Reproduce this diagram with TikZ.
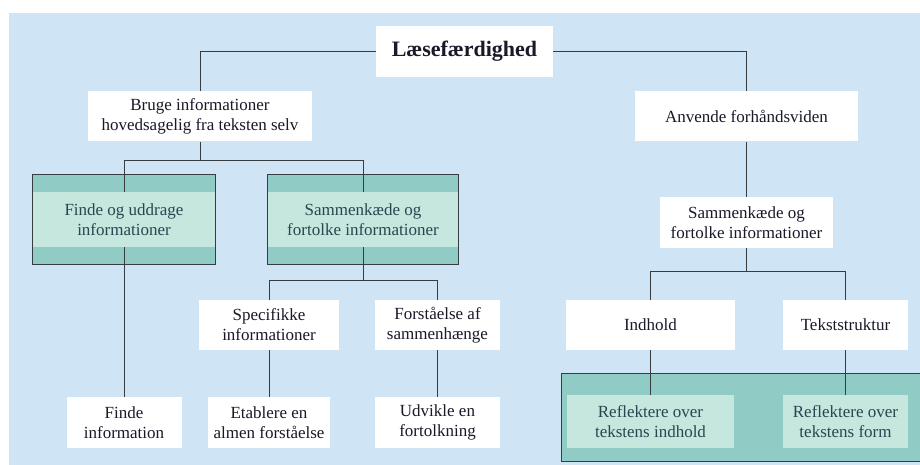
\documentclass[tikz,border=0pt]{standalone}
\usepackage{fontspec}
\setmainfont{Liberation Serif}
\usepackage{xcolor}
\usepackage{tikz}
\usetikzlibrary{positioning, fit, backgrounds, calc}
\definecolor{bgColor}{RGB}{207, 228, 244}
\definecolor{tealColor}{RGB}{145, 203, 197}
\definecolor{lightTeal}{RGB}{198, 231, 222}
\definecolor{lineColor}{RGB}{55, 60, 65}
\definecolor{tealText}{RGB}{40, 70, 80}
\definecolor{inkColor}{RGB}{25, 25, 40}

\begin{document}
\begin{tikzpicture}[
    x=1pt, y=-1pt,
    box/.style={rectangle, fill=white, minimum height=50pt, inner sep=0pt, align=center, text=inkColor, font=\fontsize{17}{20}\selectfont},
    greenbox/.style={box, fill=lightTeal, text=tealText, minimum height=55pt},
    frame/.style={draw=lineColor, fill=tealColor, line width=1pt, inner xsep=0pt, inner ysep=17.5pt},
    link/.style={draw=lineColor, line width=0.9pt}
]
    \useasboundingbox (0,0) rectangle (920,465);

    % Root
    \node[box, minimum width=177pt, minimum height=51pt, font=\fontsize{22}{26}\selectfont\bfseries] (root) at (464.5,51.5) {Læsefærdighed};

    % Left branch
    \node[box, minimum width=224pt] (bruge) at (200,116.5) {Bruge informationer\\hovedsagelig fra teksten selv};
    \node[greenbox, minimum width=182pt] (finde) at (124,219.5) {Finde og uddrage\\informationer};
    \node[greenbox, minimum width=190pt] (samL) at (363,219.5) {Sammenkæde og\\fortolke informationer};
    \node[box, minimum width=140pt] (spec) at (269,325) {Specifikke\\informationer};
    \node[box, minimum width=125pt] (forst) at (437.5,325) {Forståelse af\\sammenhænge};
    \node[box, minimum width=115pt, minimum height=51pt] (finfo) at (124,422.5) {Finde\\information};
    \node[box, minimum width=122pt, minimum height=51pt, below=47pt of spec] (etab) {Etablere en\\almen forståelse};
    \node[box, minimum width=125pt, minimum height=51pt, below=47pt of forst] (udv) {Udvikle en\\fortolkning};

    % Right branch
    \node[box, minimum width=223pt] (anvende) at (746.5,116.5) {Anvende forhåndsviden};
    \node[box, minimum width=173pt, minimum height=51pt, below=55pt of anvende] (samR) {Sammenkæde og\\fortolke informationer};
    \node[box, minimum width=169pt] (indhold) at (650.5,325) {Indhold};
    \node[box, minimum width=125pt] (tekst) at (845.5,325) {Tekststruktur};
    \node[greenbox, minimum width=167pt, minimum height=53pt, below=45pt of indhold] (refIn) {Reflektere over\\tekstens indhold};
    \node[greenbox, minimum width=125pt, minimum height=53pt, below=45pt of tekst] (refForm) {Reflektere over\\tekstens form};

    % Background and frames
    \begin{scope}[on background layer]
        \fill[bgColor] (9,13) rectangle (920,465);
        \node[frame, fit=(finde)] (findeFrame) {};
        \node[frame, fit=(samL)] (samLFrame) {};
        \draw[frame] ($(refIn.north west)+(-5,-22)$) rectangle ($(refForm.south east)+(30,13)$);
    \end{scope}

    % Lines
    \draw[link] (root.west) -| (bruge.north);
    \draw[link] (root.east) -| (anvende.north);
    \draw[link] (bruge.south) -- ++(0,19) coordinate (jb);
    \draw[link] (jb) -| (finde.north);
    \draw[link] (jb) -| (samL.north);
    \draw[link] (finde.south) -- (finfo.north);
    \draw[link] (samL.south) -- ++(0,33) coordinate (js);
    \draw[link] (js) -| (spec.north);
    \draw[link] (js) -| (forst.north);
    \draw[link] (spec.south) -- (etab.north);
    \draw[link] (forst.south) -- (udv.north);
    \draw[link] (anvende.south) -- (samR.north);
    \draw[link] (samR.south) -- ++(0,23) coordinate (jr);
    \draw[link] (jr) -| (indhold.north);
    \draw[link] (jr) -| (tekst.north);
    \draw[link] (indhold.south) -- (refIn.north);
    \draw[link] (tekst.south) -- (refForm.north);

\end{tikzpicture}
\end{document}
